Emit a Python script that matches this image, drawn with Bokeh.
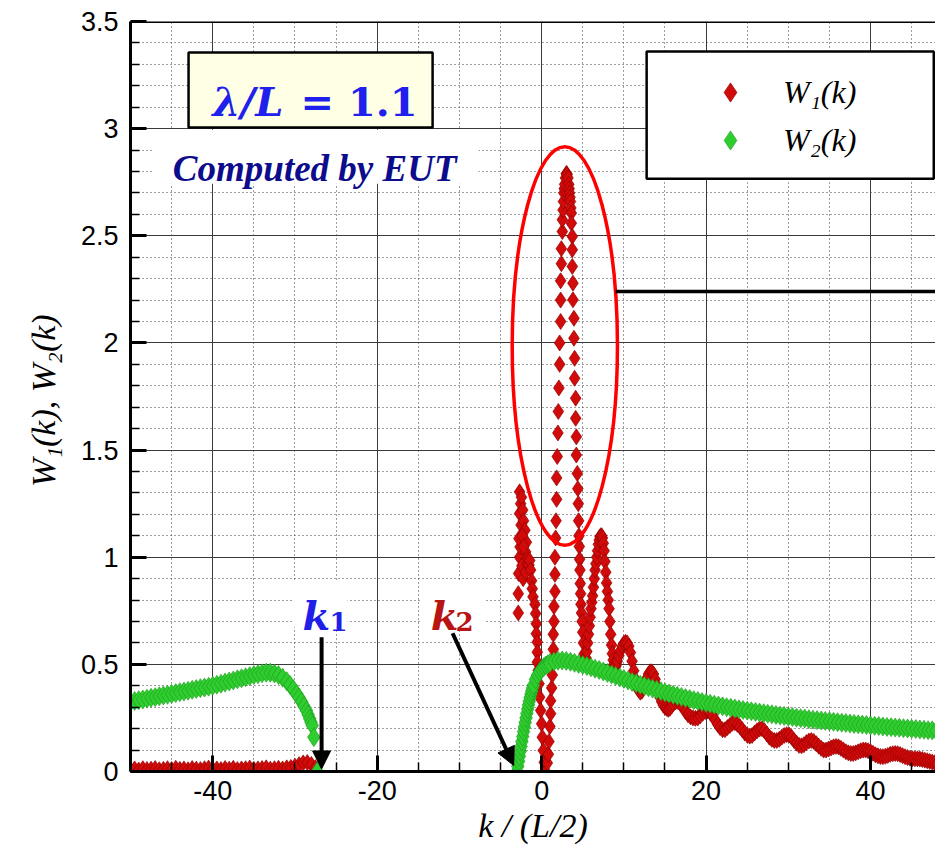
from bokeh.plotting import figure
from bokeh.models import (Range1d, SingleIntervalTicker, BoxAnnotation, Span,
                          Label, Arrow, NormalHead, Legend, ColumnDataSource)
from bokeh.embed import file_html
from bokeh.resources import INLINE

# ---------------------------------------------------------------------------
# Spectral weights W1(k) and W2(k) versus k/(L/2), lambda/L = 1.1
# ---------------------------------------------------------------------------

# W1(k): flat part left of k1
W1_FLAT = [(-50.0, 0.008), (-49.5, 0.012), (-49.0, 0.007), (-48.5, 0.013), (-48.0, 0.009),
           (-47.5, 0.011), (-47.0, 0.014), (-46.5, 0.008), (-46.0, 0.010), (-45.5, 0.013),
           (-45.0, 0.009), (-44.5, 0.015), (-44.0, 0.010), (-43.5, 0.012), (-43.0, 0.008),
           (-42.5, 0.014), (-42.0, 0.011), (-41.5, 0.009), (-41.0, 0.013), (-40.5, 0.016),
           (-40.0, 0.010), (-39.5, 0.012), (-39.0, 0.009), (-38.5, 0.014), (-38.0, 0.011),
           (-37.5, 0.015), (-37.0, 0.009), (-36.5, 0.012), (-36.0, 0.013), (-35.5, 0.016),
           (-35.0, 0.010), (-34.5, 0.012), (-34.0, 0.014), (-33.5, 0.017), (-33.0, 0.011),
           (-32.5, 0.013), (-32.0, 0.015), (-31.5, 0.012), (-31.0, 0.017), (-30.5, 0.019),
           (-30.0, 0.025), (-29.5, 0.032), (-29.0, 0.040), (-28.5, 0.042), (-28.0, 0.033),
           (-27.5, 0.018)]

# W1(k): oscillating region around k = 0 (main peak)
W1_PEAK = [(-2.84, 0.74), (-2.84, 0.83), (-2.80, 0.924), (-2.68, 1.00), (-2.62, 1.048),
           (-2.76, 1.087), (-2.50, 1.15), (-2.68, 1.204), (-2.55, 1.25), (-2.68, 1.305),
           (-2.45, 1.28), (-2.30, 1.22), (-2.20, 1.17), (-2.03, 1.126), (-1.86, 1.07),
           (-1.95, 1.025), (-2.35, 1.10), (-2.20, 1.05), (-2.10, 0.98), (-2.40, 0.96),
           (-2.25, 0.90), (-1.95, 0.93), (-1.75, 0.97), (-1.65, 0.99), (-1.54, 0.963),
           (-1.45, 0.985), (-1.34, 0.94), (-1.22, 0.89), (-1.14, 0.853), (-1.05, 0.815),
           (-0.81, 0.78), (-0.73, 0.737), (-0.65, 0.69), (-0.65, 0.643), (-0.53, 0.604),
           (-0.53, 0.557), (-0.53, 0.51), (-0.41, 0.472), (-0.32, 0.41), (-0.24, 0.347),
           (-0.12, 0.285), (0.00, 0.223), (0.08, 0.16), (0.20, 0.098), (0.32, 0.043),
           (0.49, 0.0),
           (0.69, 0.04), (0.82, 0.08), (0.89, 0.14), (1.01, 0.21), (1.09, 0.27),
           (1.09, 0.33), (1.22, 0.39), (1.30, 0.45), (1.36, 0.51), (1.42, 0.57),
           (1.42, 0.64), (1.50, 0.70), (1.50, 0.77), (1.62, 0.84), (1.62, 0.92),
           (1.62, 1.00), (1.70, 1.09), (1.75, 1.17), (1.82, 1.27), (1.82, 1.37),
           (1.90, 1.47), (1.98, 1.58), (2.03, 1.68), (2.10, 1.79), (2.19, 1.90),
           (2.19, 2.00), (2.31, 2.10), (2.31, 2.20), (2.31, 2.29), (2.40, 2.37),
           (2.40, 2.44), (2.52, 2.52), (2.52, 2.575), (2.60, 2.62), (2.65, 2.66),
           (2.70, 2.70), (2.75, 2.72), (2.80, 2.74), (2.90, 2.77), (3.00, 2.79),
           (3.05, 2.79), (3.10, 2.785), (3.20, 2.77), (3.30, 2.74), (3.35, 2.72),
           (3.40, 2.70), (3.45, 2.68), (3.50, 2.66), (3.55, 2.63),
           (3.61, 2.606), (3.61, 2.559), (3.73, 2.497), (3.73, 2.435), (3.73, 2.357),
           (3.81, 2.279), (3.81, 2.201), (3.93, 2.115), (3.93, 2.022), (4.01, 1.928),
           (4.01, 1.835), (4.14, 1.742), (4.14, 1.648), (4.22, 1.562), (4.22, 1.477),
           (4.34, 1.391), (4.40, 1.32), (4.46, 1.25), (4.50, 1.17), (4.54, 1.10),
           (4.58, 1.05), (4.62, 0.99), (4.66, 0.94), (4.70, 0.877), (4.74, 0.83),
           (4.78, 0.78), (4.85, 0.74), (4.92, 0.70), (5.00, 0.65), (5.08, 0.60),
           (5.18, 0.55), (5.25, 0.53)]

# W1(k): decaying, rippled tail
W1_TAIL = [(5.3, 0.52), (5.4, 0.53), (5.5, 0.56), (5.6, 0.60), (5.7, 0.64), (5.8, 0.68),
           (5.9, 0.72), (6.0, 0.76), (6.1, 0.79), (6.2, 0.82), (6.3, 0.86), (6.4, 0.90),
           (6.5, 0.94), (6.6, 0.97), (6.7, 1.00), (6.8, 1.03), (6.9, 1.06), (7.0, 1.08),
           (7.1, 1.095), (7.2, 1.10), (7.3, 1.10), (7.4, 1.09), (7.5, 1.065), (7.6, 1.03),
           (7.7, 0.98), (7.8, 0.93), (7.9, 0.88), (8.0, 0.84), (8.1, 0.80), (8.2, 0.76),
           (8.3, 0.70), (8.4, 0.64), (8.5, 0.59), (8.6, 0.55), (8.7, 0.52), (8.8, 0.50),
           (8.9, 0.49), (9.0, 0.49), (9.1, 0.50),
           (9.2, 0.515), (9.4, 0.54), (9.6, 0.565), (9.8, 0.585), (10.0, 0.598), (10.2, 0.603),
           (10.4, 0.60), (10.6, 0.585), (10.8, 0.555), (11.0, 0.515), (11.2, 0.47), (11.4, 0.43),
           (11.6, 0.40), (11.8, 0.38), (12.0, 0.37), (12.2, 0.375), (12.4, 0.39), (12.6, 0.41),
           (12.8, 0.435), (13.0, 0.455), (13.2, 0.465), (13.4, 0.465), (13.6, 0.455), (13.8, 0.43),
           (14.0, 0.40), (14.2, 0.37), (14.4, 0.345), (14.6, 0.325), (14.8, 0.31), (15.0, 0.30),
           (15.2, 0.295), (15.4, 0.29), (15.6, 0.295), (15.8, 0.305), (16.0, 0.315),
           (16.3, 0.325), (16.6, 0.325), (16.9, 0.315), (17.2, 0.30), (17.5, 0.28), (17.8, 0.265),
           (18.1, 0.255), (18.4, 0.25), (18.7, 0.248), (19.0, 0.25), (19.3, 0.26), (19.6, 0.272),
           (19.9, 0.28), (20.2, 0.282), (20.5, 0.275), (20.8, 0.26), (21.1, 0.24), (21.4, 0.22),
           (21.7, 0.205), (22.0, 0.195), (22.3, 0.195), (22.6, 0.205), (22.9, 0.215), (23.2, 0.225),
           (23.5, 0.228), (23.8, 0.22), (24.1, 0.21), (24.4, 0.195), (24.7, 0.18), (25.0, 0.17),
           (25.3, 0.165), (25.6, 0.168), (25.9, 0.18), (26.2, 0.19), (26.5, 0.198), (26.8, 0.20),
           (27.1, 0.19), (27.4, 0.175), (27.7, 0.16), (28.0, 0.15), (28.3, 0.145), (28.6, 0.145),
           (28.9, 0.15), (29.2, 0.16), (29.5, 0.168), (29.8, 0.172), (30.1, 0.17), (30.4, 0.16),
           (30.7, 0.145), (31.0, 0.132), (31.3, 0.122), (31.6, 0.12), (31.9, 0.125), (32.2, 0.135),
           (32.5, 0.142), (32.8, 0.145), (33.1, 0.14), (33.4, 0.13), (33.7, 0.118), (34.0, 0.108),
           (34.3, 0.10), (34.6, 0.10), (34.9, 0.105), (35.2, 0.11), (35.5, 0.115), (35.8, 0.117),
           (36.1, 0.115), (36.4, 0.108), (36.7, 0.10), (37.0, 0.092), (37.3, 0.087), (37.6, 0.084),
           (37.9, 0.084), (38.2, 0.087), (38.5, 0.092), (38.8, 0.097), (39.1, 0.10), (39.4, 0.10),
           (39.7, 0.097), (40.0, 0.092), (40.3, 0.085), (40.6, 0.078), (40.9, 0.073), (41.2, 0.07),
           (41.5, 0.069), (41.8, 0.071), (42.1, 0.075), (42.4, 0.08), (42.7, 0.083), (43.0, 0.084),
           (43.3, 0.083), (43.6, 0.079), (43.9, 0.074), (44.2, 0.069), (44.5, 0.065), (44.8, 0.062),
           (45.1, 0.060), (45.4, 0.059), (45.7, 0.059), (46.0, 0.058), (46.3, 0.056), (46.6, 0.053),
           (46.9, 0.05), (47.2, 0.047), (47.5, 0.044), (47.8, 0.041), (48.1, 0.038)]

# W2(k): branch left of k1
W2_LEFT = [(-50.0, 0.325), (-49.5, 0.329), (-49.0, 0.333), (-48.5, 0.336), (-48.0, 0.340),
           (-47.5, 0.344), (-47.0, 0.347), (-46.5, 0.351), (-46.0, 0.355), (-45.5, 0.358),
           (-45.0, 0.362), (-44.5, 0.366), (-44.0, 0.370), (-43.5, 0.373), (-43.0, 0.377),
           (-42.5, 0.381), (-42.0, 0.385), (-41.5, 0.389), (-41.0, 0.392), (-40.5, 0.396),
           (-40.0, 0.400), (-39.5, 0.405), (-39.0, 0.410), (-38.5, 0.415), (-38.0, 0.420),
           (-37.5, 0.425), (-37.0, 0.430), (-36.5, 0.435), (-36.0, 0.440), (-35.5, 0.445),
           (-35.0, 0.450), (-34.5, 0.454), (-34.0, 0.458), (-33.5, 0.461), (-33.0, 0.461),
           (-32.5, 0.457), (-32.0, 0.450), (-31.5, 0.438), (-31.0, 0.421), (-30.6, 0.404),
           (-30.2, 0.384), (-29.8, 0.362), (-29.5, 0.345), (-29.2, 0.326), (-28.9, 0.305),
           (-28.6, 0.283), (-28.4, 0.265), (-28.2, 0.246), (-28.05, 0.23), (-27.9, 0.215),
           (-27.7, 0.16), (-27.3, 0.0)]

# W2(k): branch right of k2
W2_RIGHT = [(-3.0, 0.000), (-2.9, 0.024), (-2.8, 0.047), (-2.7, 0.071), (-2.6, 0.094),
            (-2.5, 0.117), (-2.4, 0.140), (-2.3, 0.163), (-2.2, 0.186), (-2.1, 0.208),
            (-2.0, 0.229), (-1.9, 0.250), (-1.8, 0.271), (-1.7, 0.291), (-1.6, 0.310),
            (-1.5, 0.328), (-1.4, 0.345), (-1.3, 0.361), (-1.2, 0.376), (-1.1, 0.390),
            (-1.0, 0.403), (-0.75, 0.430), (-0.5, 0.450), (-0.25, 0.465), (0.0, 0.477),
            (0.25, 0.487), (0.5, 0.495), (0.75, 0.501), (1.0, 0.506), (1.5, 0.513),
            (2.0, 0.517), (2.5, 0.518), (3.0, 0.516), (3.5, 0.512), (4.0, 0.507),
            (4.5, 0.502), (5.0, 0.497), (5.5, 0.492), (6.0, 0.486), (6.5, 0.480),
            (7.0, 0.474), (7.5, 0.467), (8.0, 0.460), (8.5, 0.453), (9.0, 0.446),
            (9.5, 0.439), (10.0, 0.432), (10.5, 0.425), (11.0, 0.418), (11.5, 0.412),
            (12.0, 0.405), (12.5, 0.399), (13.0, 0.393), (13.5, 0.387), (14.0, 0.381),
            (14.5, 0.375), (15.0, 0.369), (15.5, 0.364), (16.0, 0.358), (16.5, 0.353),
            (17.0, 0.348), (17.5, 0.343), (18.0, 0.338), (18.5, 0.333), (19.0, 0.329),
            (19.5, 0.324), (20.0, 0.320), (20.5, 0.316), (21.0, 0.312), (21.5, 0.308),
            (22.0, 0.304), (22.5, 0.300), (23.0, 0.297), (23.5, 0.294), (24.0, 0.290),
            (24.5, 0.287), (25.0, 0.284), (25.5, 0.281), (26.0, 0.278), (26.5, 0.275),
            (27.0, 0.272), (27.5, 0.269), (28.0, 0.267), (28.5, 0.264), (29.0, 0.261),
            (29.5, 0.259), (30.0, 0.256), (30.5, 0.254), (31.0, 0.251), (31.5, 0.249),
            (32.0, 0.247), (32.5, 0.244), (33.0, 0.242), (33.5, 0.240), (34.0, 0.238),
            (34.5, 0.236), (35.0, 0.234), (35.5, 0.232), (36.0, 0.230), (36.5, 0.228),
            (37.0, 0.226), (37.5, 0.224), (38.0, 0.222), (38.5, 0.220), (39.0, 0.219),
            (39.5, 0.217), (40.0, 0.215), (40.5, 0.213), (41.0, 0.212), (41.5, 0.210),
            (42.0, 0.208), (42.5, 0.207), (43.0, 0.205), (43.5, 0.204), (44.0, 0.202),
            (44.5, 0.201), (45.0, 0.199), (45.5, 0.198), (46.0, 0.196), (46.5, 0.195),
            (47.0, 0.193), (47.5, 0.192), (48.0, 0.190)]

X_TICK_LABELS = {-40: "-40", -20: "-20", 0: "0", 20: "20", 40: "40"}
Y_TICK_LABELS = {0: "0", 0.5: "0.5", 1: "1", 1.5: "1.5", 2: "2", 2.5: "2.5", 3: "3", 3.5: "3.5"}

# ---------------------------------------------------------------------------
# annotation geometry (data units) and styling
# ---------------------------------------------------------------------------
X_MIN, X_MAX, Y_MIN, Y_MAX = -50, 47.9, 0, 3.5
RED_FILL, RED_EDGE = "#d10a0a", "#950000"
GREEN_FILL, GREEN_EDGE = "#2fcd2f", "#1b9a1b"
GRID_COLOR = "#3a3a3a"


def unzip(pairs):
    return [a for a, _ in pairs], [b for _, b in pairs]


w1_k, w1_v = unzip(W1_FLAT + W1_PEAK + W1_TAIL)
w2_k, w2_v = unzip(W2_LEFT + W2_RIGHT)

p = figure(width=935, height=846, output_backend="svg", toolbar_location=None,
           x_range=Range1d(X_MIN, X_MAX), y_range=Range1d(Y_MIN, Y_MAX),
           min_border_left=130, min_border_right=0, min_border_top=21, min_border_bottom=75,
           background_fill_color="white", border_fill_color="white")
p.outline_line_color = None

xax, yax = p.xaxis[0], p.yaxis[0]
xax.ticker = SingleIntervalTicker(interval=20, num_minor_ticks=4)
yax.ticker = SingleIntervalTicker(interval=0.5, num_minor_ticks=5)
p.xgrid.ticker = xax.ticker
p.ygrid.ticker = yax.ticker
xax.major_label_overrides = X_TICK_LABELS
yax.major_label_overrides = Y_TICK_LABELS

for ax in (xax, yax):
    ax.axis_line_width = 3
    ax.axis_line_color = "black"
    ax.major_tick_in = 16
    ax.major_tick_out = 0
    ax.minor_tick_in = 9
    ax.minor_tick_out = 0
    ax.major_tick_line_width = 3
    ax.minor_tick_line_width = 1.5
    ax.major_tick_line_color = "black"
    ax.minor_tick_line_color = "black"
    ax.major_label_text_font = "Liberation Sans"
    ax.major_label_text_font_size = "27px"
    ax.major_label_text_color = "black"
    ax.axis_label_text_font = "Liberation Serif"
    ax.axis_label_text_font_style = "italic"
    ax.axis_label_text_font_size = "34px"
    ax.axis_label_text_color = "black"

xax.axis_label = "k / (L/2)"
xax.major_label_standoff = 9
xax.axis_label_standoff = 4
yax.axis_label = "W\u2081(k),  W\u2082(k)"
yax.major_label_standoff = 12
yax.axis_label_standoff = 16

# frame border along the top edge
p.add_layout(Span(location=Y_MAX, dimension="width", line_color="black", line_width=3))

for g in (p.xgrid[0], p.ygrid[0]):
    g.grid_line_color = GRID_COLOR
    g.grid_line_width = 1
    g.minor_grid_line_color = GRID_COLOR
    g.minor_grid_line_width = 1
    g.minor_grid_line_dash = "1 3"

# white patches behind the text labels
for left, right, bottom, top_ in [(-47.2, -7.66, 2.743, 2.995),
                                  (-30.17, -23.6, 0.673, 0.8925),
                                  (-14.72, -6.81, 0.673, 0.8925)]:
    p.add_layout(BoxAnnotation(left=left, right=right, bottom=bottom, top=top_,
                               fill_color="white", fill_alpha=1.0, line_color=None))

# data
src1 = ColumnDataSource(dict(k=w1_k, w=w1_v))
src2 = ColumnDataSource(dict(k=w2_k, w=w2_v))
r1 = p.scatter("k", "w", source=src1, marker="diamond", size=16,
               fill_color=RED_FILL, line_color=RED_EDGE, line_width=0.7)
r2 = p.scatter("k", "w", source=src2, marker="diamond", size=19,
               fill_color=GREEN_FILL, line_color=GREEN_EDGE, line_width=0.6)

# highlighted main peak and leader line
p.ellipse(x=[2.82], y=[1.986], width=12.8, height=1.86,
          fill_color=None, line_color="#ff0000", line_width=3.5)
p.segment(x0=[9.0], y0=[2.24], x1=[49.0], y1=[2.24], line_color="black", line_width=3.5)

# k1 / k2 markers
for xs, ys, xe, ye in [(-26.76, 0.626, -26.76, 0.012), (-10.83, 0.645, -3.4, 0.028)]:
    p.add_layout(Arrow(end=NormalHead(size=18, fill_color="black", line_color="black"),
                       x_start=xs, y_start=ys, x_end=xe, y_end=ye,
                       line_width=4, line_color="black"))

for txt, sub, xk, xs, color in [("k", "1", -29.08, -25.79, "#1f1fe8"),
                                ("k", "2", -13.50, -10.46, "#b81414")]:
    p.add_layout(Label(x=xk, y=0.729, text=txt, text_font="DejaVu Serif",
                       text_font_style="bold italic", text_font_size="40px",
                       text_color=color, text_baseline="alphabetic"))
    p.add_layout(Label(x=xs, y=0.701, text=sub, text_font="DejaVu Serif",
                       text_font_style="bold", text_font_size="26px",
                       text_color=color, text_baseline="alphabetic"))

# parameter box
p.add_layout(BoxAnnotation(left=-42.94, right=-13.26, bottom=3.005, top=3.355,
                           fill_color="#ffffe6", fill_alpha=1.0,
                           line_color="black", line_alpha=1.0, line_width=2.5))
p.add_layout(Label(x=-40.02, y=3.128, text="\u03bb/L", text_font="DejaVu Serif",
                   text_font_style="bold italic", text_font_size="40px",
                   text_color="#2020ee", text_baseline="alphabetic"))
p.add_layout(Label(x=-15.09, y=3.128, text="= 1.1", text_font="DejaVu Serif",
                   text_font_style="bold", text_font_size="40px", text_align="right",
                   text_color="#2020ee", text_baseline="alphabetic"))
p.add_layout(Label(x=-27.6, y=2.816, text="Computed by EUT", text_font="Liberation Serif",
                   text_font_style="bold italic", text_font_size="37px", text_align="center",
                   text_color="#0c0c8c", text_baseline="alphabetic"))

# legend frame, then the legend entries inside it
p.add_layout(BoxAnnotation(left=12.77, right=47.69, bottom=2.766, top=3.36,
                           fill_color="white", fill_alpha=1.0,
                           line_color="black", line_alpha=1.0, line_width=2.5))
legend = Legend(items=[("W\u2081(k)", [r1]), ("W\u2082(k)", [r2])],
                location=(547, 607), orientation="vertical",
                glyph_width=106, glyph_height=48, spacing=0, padding=0,
                label_standoff=0, margin=0,
                label_text_font="Liberation Serif", label_text_font_style="italic",
                label_text_font_size="32px", label_text_color="black",
                border_line_color=None, background_fill_alpha=0.0)
p.add_layout(legend)

open("out.html", "w").write(file_html(p, INLINE))
